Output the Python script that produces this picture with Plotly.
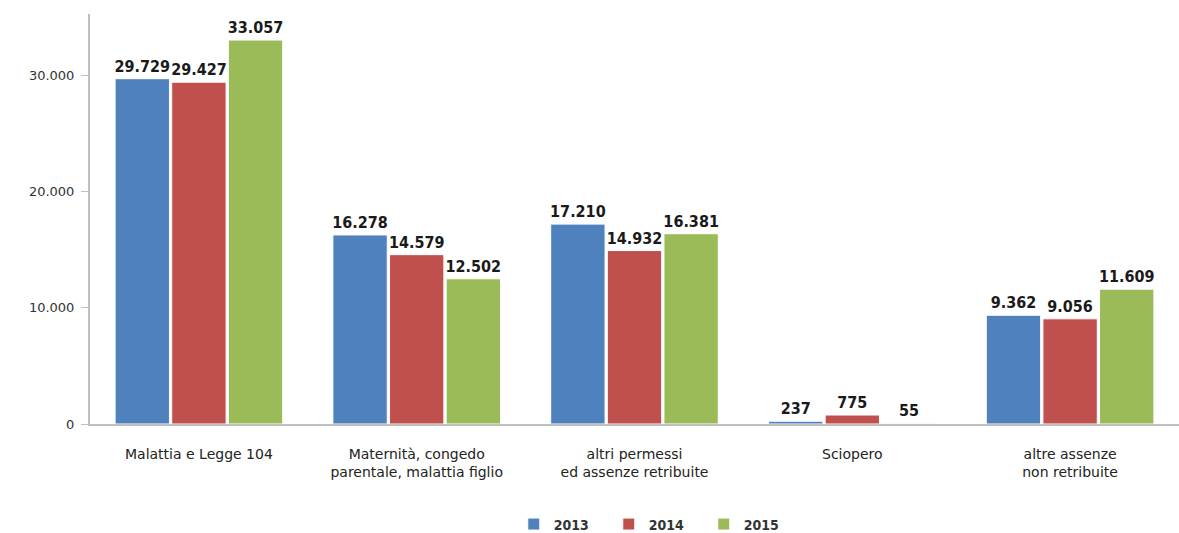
import plotly.graph_objects as go

categories = [
    "Malattia e Legge 104",
    "Maternità, congedo<br>parentale, malattia figlio",
    "altri permessi<br>ed assenze retribuite",
    "Sciopero",
    "altre assenze<br>non retribuite",
]
values_2013 = [29729, 16278, 17210, 237, 9362]
values_2014 = [29427, 14579, 14932, 775, 9056]
values_2015 = [33057, 12502, 16381, 55, 11609]
y_ticks = [0, 10000, 20000, 30000]
y_tick_labels = ["0", "10.000", "20.000", "30.000"]

series = [
    ("2013", values_2013, "#4F81BD"),
    ("2014", values_2014, "#C0504D"),
    ("2015", values_2015, "#9BBB59"),
]

fig = go.Figure()
for name, vals, color in series:
    fig.add_trace(go.Bar(
        name=name,
        x=categories,
        y=vals,
        marker=dict(color=color, line=dict(color="white", width=1)),
        text=vals,
        texttemplate="%{y:,}",
        textposition="outside",
        constraintext="none",
        textfont=dict(family="DejaVu Sans Condensed, DejaVu Sans", size=16,
                      color="#1a1a1a", weight="bold"),
        cliponaxis=False,
    ))

fig.update_layout(
    width=1179,
    height=533,
    margin=dict(l=90, r=0, t=14, b=109, autoexpand=False),
    paper_bgcolor="white",
    plot_bgcolor="white",
    separators=",.",
    barmode="group",
    bargap=0.22,
    bargroupgap=0.04,
    font=dict(family="DejaVu Sans", size=13, color="#333333"),
    showlegend=True,
    legend=dict(
        orientation="h",
        x=0.52, xanchor="center",
        y=-0.245, yanchor="middle",
        font=dict(family="DejaVu Sans Condensed, DejaVu Sans", size=14,
                  color="#333333", weight="bold"),
        entrywidth=50,
        entrywidthmode="pixels",
    ),
)
fig.update_yaxes(
    range=[0, 35300],
    tickvals=y_ticks,
    ticktext=y_tick_labels,
    showgrid=False,
    zeroline=False,
    showline=True,
    linecolor="#bfbfbf",
    linewidth=2,
    ticks="outside",
    ticklen=7,
    tickcolor="#bfbfbf",
    tickfont=dict(family="DejaVu Sans", size=13, color="#333333"),
    ticklabelstandoff=4,
)
fig.update_xaxes(
    showgrid=False,
    showline=True,
    linecolor="#bfbfbf",
    linewidth=2,
    ticks="",
    tickfont=dict(family="DejaVu Sans", size=14, color="#222222"),
    ticklabelstandoff=16,
)

fig.write_html("out.html")
